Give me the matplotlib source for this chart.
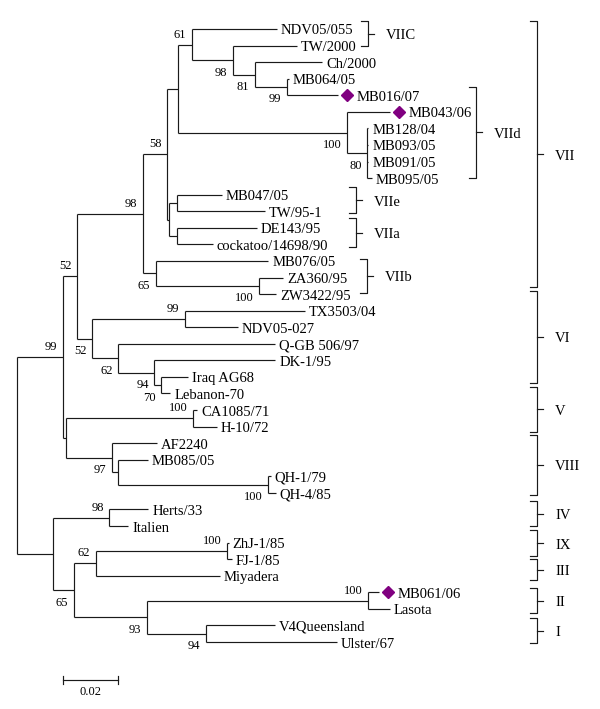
import matplotlib
matplotlib.use('Agg')
import matplotlib.pyplot as plt
from matplotlib.transforms import offset_copy

# ---------------- data ----------------
# Neighbour-joining tree (branch lengths in substitutions/site, bootstrap as node labels)
TREE = ("(((((((NDV05/055:0.0309,(TW/2000:0.0233,(Ch/2000:0.0244,(MB064/05:0.0007,MB016/07:0.0185)99:0.0116)81:0.0080)98:0.0149)61:0.0051,"
        "(MB043/06:0.0156,(MB128/04:0.0004,MB093/05:0.0004,MB091/05:0.0004,MB095/05:0.0018)80:0.0073)100:0.0615):0.0040,"
        "((MB047/05:0.0164,TW/95-1:0.0320):0.0029,(DE143/95:0.0291,cockatoo/14698/90:0.0131):0.0029):0.0007)58:0.0087,"
        "(MB076/05:0.0409,(ZA360/95:0.0087,ZW3422/95:0.0062)100:0.0375)65:0.0047)98:0.0240,"
        "((TX3503/04:0.0436,NDV05-027:0.0193)99:0.0338,(Q-GB 506/97:0.0571,(DK-1/95:0.0440,(Iraq AG68:0.0098,Lebanon-70:0.0033)70:0.0025)94:0.0131)62:0.0095)52:0.0055)52:0.0051,"
        "((CA1085/71:0.0015,H-10/72:0.0087)100:0.0462,(AF2240:0.0164,(MB085/05:0.0109,(QH-1/79:0.0011,QH-4/85:0.0029)100:0.0545):0.0022)97:0.0167):0.0011)99:0.0167,"
        "((Herts/33:0.0142,Italien:0.0069)98:0.0204,(((ZhJ-1/85:0.0007,FJ-1/85:0.0018)100:0.0476,Miyadera:0.0451)62:0.0080,"
        "((MB061/06:0.0040,Lasota:0.0080)100:0.0804,(V4Queensland:0.0251,Ulster/67:0.0476)94:0.0215)93:0.0265)65:0.0076):0.0131);")

HIGHLIGHT = ["MB016/07", "MB043/06", "MB061/06"]

SUB_NAMES = ["VIIC", "VIId", "VIIe", "VIIa", "VIIb"]
SUB_SPANS = [(-0.48, 1.03), (3.50, 8.99), (9.54, 11.11), (11.41, 13.16), (13.88, 15.93)]

GENO_NAMES = ["VII", "VI", "V", "VIII", "IV", "IX", "III", "II", "I"]
GENO_SPANS = [(-0.48, 15.57), (15.81, 21.37), (21.61, 24.32), (24.50, 28.13),
              (28.49, 30.00), (30.24, 31.81), (31.99, 33.26), (33.74, 35.25), (35.55, 37.06)]

SCALE_LEN = 0.02
SCALE_LABEL = "0.02"

# ---------------- layout constants ----------------
PX_PER_UNIT = 2750.0
PX_PER_LEAF = 16.568
ROOT_PX = 17.0
TOP_PX = 29.0
W, H = 600, 709
SUB_X = [0.1276, 0.1669, 0.1233, 0.1233, 0.1273]
GENO_X = 0.1892
LINE_C = '#1a1a1a'
LW = 0.85
SERIF = ['Liberation Serif', 'DejaVu Serif']
FS_LEAF = 10.5
FS_BOOT = 9.0


def parse(s):
    pos = 0

    def node():
        nonlocal pos
        children = []
        if s[pos] == '(':
            pos += 1
            while True:
                children.append(node())
                if s[pos] == ',':
                    pos += 1
                    continue
                pos += 1
                break
        start = pos
        while pos < len(s) and s[pos] not in ':,);':
            pos += 1
        label = s[start:pos]
        bl = 0.0
        if pos < len(s) and s[pos] == ':':
            pos += 1
            start = pos
            while s[pos] not in ',);':
                pos += 1
            bl = float(s[start:pos])
        return {'children': children, 'label': label, 'bl': bl}

    return node()


root = parse(TREE)
leaves = []


def layout(n, x0, parent=None, first=False):
    n['x'] = x0 + n['bl']
    n['parent'] = parent
    n['first'] = first
    if not n['children']:
        n['y'] = len(leaves)
        leaves.append(n)
    else:
        for i, c in enumerate(n['children']):
            layout(c, n['x'], n, i == 0)
        n['y'] = (n['children'][0]['y'] + n['children'][-1]['y']) / 2


root['bl'] = 0.0
layout(root, 0.0)

fig = plt.figure(figsize=(W / 100, H / 100), dpi=100)
ax = fig.add_axes([0, 0, 1, 1])
ax.set_xlim(-ROOT_PX / PX_PER_UNIT, (W - ROOT_PX) / PX_PER_UNIT)
ax.set_ylim((H - TOP_PX) / PX_PER_LEAF, -TOP_PX / PX_PER_LEAF)
ax.axis('off')


def off(dx, dy):
    return offset_copy(ax.transData, fig=fig, x=dx, y=dy, units='dots')


def draw(n):
    if n['children']:
        ys = [c['y'] for c in n['children']]
        ax.plot([n['x'], n['x']], [min(ys), max(ys)], color=LINE_C, lw=LW, solid_capstyle='butt')
        for c in n['children']:
            ax.plot([n['x'], c['x']], [c['y'], c['y']], color=LINE_C, lw=LW, solid_capstyle='butt')
            draw(c)
        if n['label'] and n['parent'] is not None:
            if n['first']:
                ax.text(n['x'], n['y'], n['label'], ha='right', va='bottom', fontsize=FS_BOOT,
                        family=SERIF, transform=off(-5.5, 4))
            else:
                ax.text(n['x'], n['y'], n['label'], ha='right', va='top', fontsize=FS_BOOT,
                        family=SERIF, transform=off(-5.5, -6.5))
    else:
        if n['label'] in HIGHLIGHT:
            ax.plot([n['x']], [n['y']], marker='D', ms=6.2, color='#800080', mec='#800080',
                    transform=off(9, 0))
            ax.text(n['x'], n['y'], n['label'], ha='left', va='center_baseline', fontsize=FS_LEAF,
                    family=SERIF, transform=off(19, -0.5))
        else:
            ax.text(n['x'], n['y'], n['label'], ha='left', va='center_baseline', fontsize=FS_LEAF,
                    family=SERIF, transform=off(4, -0.5))


draw(root)


def bracket(x, y0, y1, name):
    tick_l = 7 / PX_PER_UNIT
    tick_r = 6 / PX_PER_UNIT
    ym = (y0 + y1) / 2
    ax.plot([x - tick_l, x, x, x - tick_l], [y0, y0, y1, y1], color=LINE_C, lw=LW)
    ax.plot([x, x + tick_r], [ym, ym], color=LINE_C, lw=LW)
    ax.text(x, ym, name, ha='left', va='center_baseline', fontsize=FS_LEAF, family=SERIF,
            transform=off(18, -0.5))


for name, (a, b), x in zip(SUB_NAMES, SUB_SPANS, SUB_X):
    bracket(x, a, b, name)
for name, (a, b) in zip(GENO_NAMES, GENO_SPANS):
    bracket(GENO_X, a, b, name)

# scale bar
sb_x0 = (63 - ROOT_PX) / PX_PER_UNIT
sb_y = (680 - TOP_PX) / PX_PER_LEAF
tick = 4 / PX_PER_LEAF
ax.plot([sb_x0, sb_x0 + SCALE_LEN], [sb_y, sb_y], color=LINE_C, lw=LW)
ax.plot([sb_x0, sb_x0], [sb_y - tick, sb_y + tick], color=LINE_C, lw=LW)
ax.plot([sb_x0 + SCALE_LEN, sb_x0 + SCALE_LEN], [sb_y - tick, sb_y + tick], color=LINE_C, lw=LW)
ax.text(sb_x0 + SCALE_LEN / 2, sb_y, SCALE_LABEL, ha='center', va='top', fontsize=FS_BOOT,
        family=SERIF, transform=off(0, -6))

fig.savefig('out.png', dpi=100)
